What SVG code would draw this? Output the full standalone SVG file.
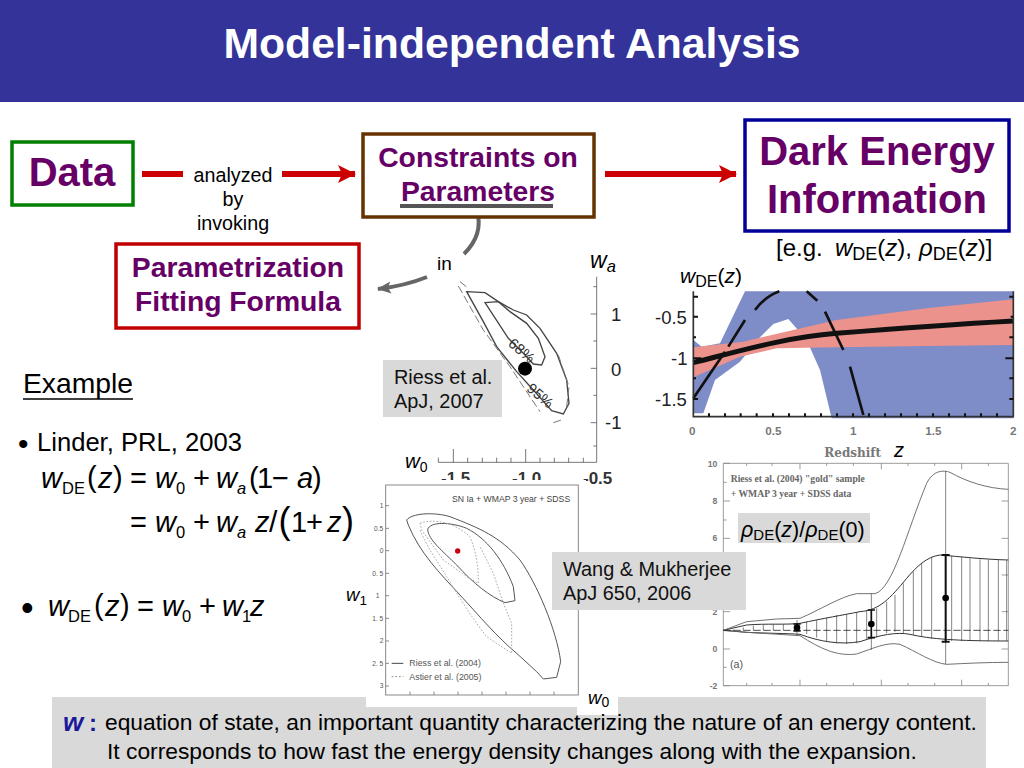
<svg xmlns="http://www.w3.org/2000/svg" width="1024" height="768" viewBox="0 0 1024 768">
<style>
text{font-family:"Liberation Sans",Arial,sans-serif;fill:#000}
.head{font-weight:bold;fill:#660066;text-anchor:middle}
.lab{fill:#111;font-size:19.900px}
.i{font-style:italic}
.eq{font-size:29px}
.s{font-size:16.500px}
.box{fill:#fff;stroke-width:3.500}
.tag{fill:#d9d9d9}
.tick{font-size:18.500px;fill:#222}
.ax{fill:none;stroke:#555;stroke-width:2.4}
.c1{fill:none;stroke:#444;stroke-width:4}
.d1{fill:none;stroke:#777;stroke-width:3;stroke-dasharray:24 10}
.c3{fill:none;stroke:#555;stroke-width:3}
.d3{fill:none;stroke:#aaa;stroke-width:3;stroke-dasharray:5 5}
.t3{font-size:20px;fill:#555}
.c4{fill:none;stroke:#666;stroke-width:2.8}
.c4k{fill:none;stroke:#333;stroke-width:3}
.t4{font-family:"Liberation Serif",serif;fill:#666;font-size:29px;font-weight:bold}
.t2{font-size:27px;fill:#777;font-family:"DejaVu Serif","Liberation Serif",serif}
</style>
<defs>
<marker id="red" markerUnits="userSpaceOnUse" markerWidth="18" markerHeight="20" refX="17" refY="10" orient="auto"><path d="M0 1L18 10L0 19L4 10Z" fill="#cc0000"/></marker>
<marker id="gr" markerUnits="userSpaceOnUse" markerWidth="14" markerHeight="14" refX="13" refY="7" orient="auto"><path d="M0 1L14 7L0 13L3 7Z" fill="#666"/></marker>
</defs>
<rect width="1024" height="768" fill="#fff"/>
<rect id="title-bar" width="1024" height="102" fill="#333399"/>
<text x="512" y="58" text-anchor="middle" font-size="42.700" font-weight="bold" style="fill:#fff">Model-independent Analysis</text>

<g id="plot-riess" transform="translate(370 240) scale(.33333)">
<path class="ax" d="M680 110V667H205M680 140h-10M680 222h-18M680 303h-10M680 385h-18M680 466h-10M680 548h-18M680 618h-10M205 667v-14M250 667v-40M293 667v-14M337 667v-14M380 667v-14M423 667v-14M467 667v-40M510 667v-14M553 667v-14M596 667v-14M640 667v-14"/>
<path class="c1" d="M290 155L345 158L385 185L430 210L470 225L510 265L560 340L590 420L597 490L580 522L545 512L490 450L440 395L380 320L340 245Z"/>
<path class="c1" d="M345 188L385 185L420 215L470 250L505 295L525 350L515 375L490 372L465 345L415 295Z"/>
<path class="d1" d="M270 125L295 145M265 138L340 270L420 380L510 515M550 548L580 538M590 500L597 440L565 345"/>
<circle cx="465" cy="386" r="21" fill="#000"/>
<text transform="translate(412 315) rotate(40)" font-size="44" style="fill:#333">68%</text>
<text transform="translate(467 450) rotate(40)" font-size="44" style="fill:#333">95%</text>
</g>
<text x="590" y="268" class="i" font-size="23">w<tspan class="s" dy="4">a</tspan></text>
<text x="611" y="321" class="tick">1</text><text x="611" y="376" class="tick">0</text><text x="605" y="429" class="tick">-1</text>
<text x="405" y="468" class="i" font-size="20.500">w<tspan font-size="14" dy="4" font-style="normal">0</tspan></text>
<text x="441" y="484" font-size="17" font-weight="bold" style="fill:#333">-1.5</text>
<text x="512" y="484" font-size="17" font-weight="bold" style="fill:#333">-1.0</text>
<text x="583" y="484" font-size="17" font-weight="bold" style="fill:#333">-0.5</text>
<g id="tag-riess"><rect class="tag" x="383" y="360" width="119" height="57"/>
<text class="lab" x="394" y="384">Riess et al.</text><text class="lab" x="394" y="408">ApJ, 2007</text></g>

<g id="plot-wde" transform="translate(660 250) scale(.33333)">
<path d="M100 270L125 290L180 280L255 124H1060V505H515L480 360L440 270L385 207L340 222L300 262L240 335L165 390L130 490H100Z" fill="#7e8cc8"/>
<path d="M100 292L250 275L530 210L800 175L1060 148V285L800 288L530 292L350 295L240 320L100 382Z" fill="#ec928c"/>
<path d="M100 338C250 300 380 262 530 250S900 222 1060 213" fill="none" stroke="#111" stroke-width="15"/>
<g fill="none" stroke="#111" stroke-width="8"><path d="M100 445L195 305M205 290L255 210M285 180Q315 140 358 124M440 124L472 152M495 185L550 300M570 350L610 495"/></g>
<path d="M100 124V500H1060V124" fill="none" stroke="#333" stroke-width="5"/>
<path d="M100 140h14M100 200h14M100 262h8M100 325h24M100 385h8M100 447h14M1060 140h-12M1060 200h-8M1060 262h-12M1036 325h24M1060 385h-12M1060 447h-12M147 500v-10M195 500v-10M242 500v-10M290 500v-10M339 500v-10M387 500v-10M435 500v-10M483 500v-10M531 500v-10M579 500v-10M627 500v-10M675 500v-10M723 500v-10M771 500v-10M819 500v-10M867 500v-10M915 500v-10M963 500v-10M1011 500v-10" stroke="#111" stroke-width="6"/>
<g font-weight="bold"><text x="97" y="556" text-anchor="middle" style="font-size:35px;fill:#777">0</text>
<text x="340" y="556" text-anchor="middle" style="font-size:35px;fill:#777">0.5</text>
<text x="580" y="556" text-anchor="middle" style="font-size:35px;fill:#777">1</text>
<text x="820" y="556" text-anchor="middle" style="font-size:35px;fill:#777">1.5</text>
<text x="1060" y="556" text-anchor="middle" style="font-size:35px;fill:#777">2</text></g>
<text class="t2" x="578" y="620" text-anchor="middle" style="font-size:36px;font-weight:bold">Redshift</text>
</g>
<text x="680" y="283" font-size="21" class="i">w<tspan font-size="16" dy="4" font-style="normal">DE</tspan><tspan dy="-4" font-style="normal">(</tspan>z<tspan font-style="normal">)</tspan></text>
<text x="655" y="324" class="tick">-0.5</text><text x="671" y="365" class="tick">-1</text><text x="655" y="406" class="tick">-1.5</text>
<text x="894" y="457" class="i" font-size="20">z</text>

<g id="plot-wang" transform="translate(340 480) scale(.33333)">
<rect x="78" y="0" width="660" height="700" fill="#fff"/>
<rect x="137" y="15" width="578" height="630" fill="none" stroke="#888" stroke-width="3"/>
<path d="M137 77h10M137 145h10M137 212h10M137 280h10M137 347h10M137 415h10M137 483h10M137 550h10M137 618h10M210 645v-10M282 645v-10M354 645v-10M426 645v-10M498 645v-10M570 645v-10M642 645v-10" stroke="#888" stroke-width="3"/>
<path class="c3" d="M200 120C215 100 280 95 330 110C420 145 480 170 540 240C590 310 650 450 662 545L650 592L610 597L590 575L530 520C470 470 420 410 360 345C300 280 240 220 205 135Z"/>
<path class="c3" d="M263 148C270 125 330 125 380 145C440 175 490 240 520 320L525 362L495 368C450 350 400 310 350 255C310 215 265 180 263 148Z"/>
<path class="d3" d="M240 130C280 115 340 125 390 170C410 220 415 260 415 310L380 290L310 240L245 150ZM240 150C260 200 290 240 320 290C350 340 400 420 440 470L515 520L515 430L490 370L460 280L420 200"/>
<circle cx="353" cy="213" r="8" fill="#cc0011"/>
<text x="336" y="66" style="font-size:26px;fill:#444">SN Ia + WMAP 3 year + SDSS</text>
<path d="M155 550H190" stroke="#444" stroke-width="3"/><path d="M155 590H190" stroke="#888" stroke-width="3" stroke-dasharray="5 6"/>
<text x="208" y="558" style="font-size:26.500px;fill:#555">Riess et al. (2004)</text>
<text x="208" y="600" style="font-size:26.500px;fill:#555">Astier et al. (2005)</text>
<g text-anchor="end"><text class="t3" x="130" y="84">1</text><text class="t3" x="130" y="152">0.5</text><text class="t3" x="130" y="219">0</text><text class="t3" x="130" y="287">0. 5</text><text class="t3" x="118" y="354">1</text><text class="t3" x="130" y="422">1. 5</text><text class="t3" x="130" y="490">2</text><text class="t3" x="130" y="557">2. 5</text><text class="t3" x="130" y="625">3</text></g>
<g text-anchor="middle"><text class="t3" x="130" y="674">1. 6</text><text class="t3" x="203" y="674">1. 4</text><text class="t3" x="275" y="674">1. 2</text><text class="t3" x="342" y="674">1</text><text class="t3" x="420" y="674">0. 8</text><text class="t3" x="492" y="674">0. 6</text><text class="t3" x="565" y="674">0. 4</text><text class="t3" x="637" y="674">0. 2</text><text class="t3" x="715" y="674">0</text></g>
</g>
<text x="346" y="601" class="i" font-size="18.500">w<tspan font-size="13.500" dy="4" font-style="normal">1</tspan></text>

<g id="plot-rho" transform="translate(700 455) scale(.33333)">
<path d="M70 25V692H925V25Z" fill="none" stroke="#888" stroke-width="2.5"/>
<path d="M70 25h20M70 138h20M70 250h20M70 360h20M70 470h20M70 582h20M70 692h20M70 82h10M70 195h10M70 305h10M70 415h10M70 527h10M70 637h10M140 25v8M216 25v8M300 25v18M380 25v8M460 25v8M544 25v18M624 25v8M704 25v8M785 25v18M865 25v8M140 692v-8M216 692v-8M300 692v-18M380 692v-8M460 692v-8M544 692v-18M624 692v-8M704 692v-8M785 692v-18M865 692v-8M925 138h-20M925 250h-20M925 360h-20M925 470h-20M925 582h-20" stroke="#888" stroke-width="2.5" fill="none"/>
<path d="M100 526V524M130 526V517M160 526V512M190 526V510M220 526V508M250 526V507M320 537V500M350 548V495M380 558V488M410 565V480M440 567V478M470 565V472M500 555V465M530 548V460M560 535V440M585 530V420M610 535V385M640 540V350M665 545V325M695 552V305M755 558V303M785 558V305M810 558V310M840 558V313M865 558V314M895 558V315M920 558V316" stroke="#555" stroke-width="2.2"/>
<path class="c4k" d="M70 526L140 510C200 505 260 510 300 505C370 490 430 480 480 470C540 465 570 430 620 370C650 335 680 305 720 300C780 305 850 313 925 315"/>
<path class="c4k" d="M70 526L140 532C200 535 260 535 300 538C360 560 420 570 480 560C540 540 590 530 630 538C690 552 770 558 925 558"/>
<path class="c4" d="M70 526L140 500L230 492L300 490C360 465 420 425 470 416H525C580 400 620 230 680 85C700 45 730 45 750 52C800 80 860 100 925 103"/>
<path class="c4" d="M70 526L140 532L300 542C360 580 410 605 470 597C520 580 560 560 600 568C650 590 700 625 740 628C800 625 860 622 925 622"/>
<path d="M70 526H925" stroke="#222" stroke-width="2.4" stroke-dasharray="22 8"/>
<path d="M291 495V542M514 416V585M737 48V628" stroke="#555" stroke-width="2.2"/>
<path d="M291 507V528M280 507H302M280 528H302M514 465V548M503 465H525M503 548H525" stroke="#111" stroke-width="5" fill="none"/>
<path d="M737 300V560M725 300H749M725 560H749" stroke="#111" stroke-width="6" fill="none"/>
<circle cx="291" cy="518" r="10" fill="#000"/><circle cx="514" cy="507" r="10" fill="#000"/><circle cx="737" cy="429" r="10" fill="#000"/>
<text class="t4" x="92" y="80">Riess et al. (2004) "gold" sample</text>
<text class="t4" x="92" y="125">+ WMAP 3 year + SDSS data</text>
<g font-weight="bold" text-anchor="end"><text x="52" y="35" style="font-size:26px;fill:#777">10</text><text x="52" y="147" style="font-size:26px;fill:#777">8</text><text x="52" y="258" style="font-size:26px;fill:#777">6</text><text x="52" y="480" style="font-size:26px;fill:#777">2</text><text x="52" y="592" style="font-size:26px;fill:#777">0</text><text x="52" y="702" style="font-size:26px;fill:#777">-2</text></g>
<text x="90" y="640" font-size="32" style="fill:#555">(a)</text>
</g>
<g id="tag-rho"><rect class="tag" x="738" y="513" width="132" height="30"/>
<text x="741" y="537" font-size="21.500"><tspan class="i">ρ</tspan><tspan font-size="15" dy="3">DE</tspan><tspan dy="-3">(</tspan><tspan class="i">z</tspan>)/<tspan class="i">ρ</tspan><tspan font-size="15" dy="3">DE</tspan><tspan dy="-3">(0)</tspan></text></g>
<g id="tag-wang"><rect class="tag" x="552" y="552" width="194" height="58"/>
<text class="lab" x="563" y="576">Wang &amp; Mukherjee</text><text class="lab" x="563" y="600">ApJ 650, 2006</text></g>

<g id="connectors" fill="none">
<path d="M142 174H183" stroke="#cc0000" stroke-width="6"/>
<path d="M282 174H355" stroke="#cc0000" stroke-width="6" marker-end="url(#red)"/>
<path d="M605 174H736" stroke="#cc0000" stroke-width="6" marker-end="url(#red)"/>
<path d="M477 211C482 228 476 242 464 254" stroke="#666" stroke-width="4"/>
<path d="M427 277C412 283 395 287 378 289" stroke="#666" stroke-width="4" marker-end="url(#gr)"/>
</g>
<g id="node-data"><rect class="box" x="12" y="142" width="121" height="63" stroke="#008000"/>
<text class="head" x="72" y="186" font-size="40">Data</text></g>
<text x="233" y="182" text-anchor="middle" font-size="19.700">analyzed</text>
<text x="233" y="206" text-anchor="middle" font-size="19.700">by</text>
<text x="233" y="230" text-anchor="middle" font-size="19.700">invoking</text>
<g id="node-constraints"><rect class="box" x="363" y="134" width="231" height="83" stroke="#663300"/>
<text class="head" x="478" y="167" font-size="28.300">Constraints on</text>
<text class="head" x="478" y="201" font-size="28.300">Parameters</text>
<path d="M400 206H553" stroke="#555" stroke-width="4"/></g>
<g id="node-dark"><rect class="box" x="745" y="120" width="264" height="111" stroke="#000099"/>
<text class="head" x="877" y="165" font-size="40">Dark Energy</text>
<text class="head" x="877" y="213" font-size="40">Information</text></g>
<text x="776" y="256" font-size="24">[e.g. <tspan class="i" x="835">w</tspan><tspan font-size="18" dy="4">DE</tspan><tspan dy="-4">(</tspan><tspan class="i">z</tspan>),<tspan class="i" x="919">ρ</tspan><tspan font-size="18" dy="4">DE</tspan><tspan dy="-4">(</tspan><tspan class="i">z</tspan>)]</text>
<g id="node-param"><rect class="box" x="116" y="244" width="243" height="84" stroke="#c00000"/>
<text class="head" x="238" y="277" font-size="28.300">Parametrization</text>
<text class="head" x="238" y="311" font-size="28.300">Fitting Formula</text></g>
<text x="437" y="270" font-size="19">in</text>

<text x="23" y="393" font-size="28.300">Example</text><path d="M23 399H133" stroke="#000" stroke-width="1.500"/>
<text x="18" y="454" font-size="30">•</text><text x="37" y="451" font-size="25.600">Linder, PRL, 2003</text>
<g id="eq1">
<text class="eq i" x="41" y="488">w</text><text class="s" x="62" y="494">DE</text><text class="eq" x="87" y="487">(</text><text class="eq i" x="98" y="488">z</text><text class="eq" x="113" y="487">)</text><text class="eq" x="130" y="488">=</text>
<text class="eq i" x="155" y="488">w</text><text class="s" x="176" y="494">0</text><text class="eq" x="193" y="488">+</text><text class="eq i" x="216" y="488">w</text><text class="s i" x="237" y="494">a</text><text class="eq" x="249" y="488">(</text><text class="eq" x="257" y="488">1</text><text class="eq" x="272" y="488">−</text><text class="eq i" x="297" y="488">a</text><text class="eq" x="312" y="488">)</text>
<text class="eq" x="130" y="532">=</text><text class="eq i" x="155" y="532">w</text><text class="s" x="176" y="538">0</text><text class="eq" x="193" y="532">+</text><text class="eq i" x="216" y="532">w</text><text class="s i" x="237" y="538">a</text><text class="eq i" x="255" y="532">z</text><text x="269" y="532" font-size="30">/</text><text x="278.500" y="533" font-size="36">(</text><text class="eq" x="291" y="532">1</text><text class="eq" x="306" y="532">+</text><text class="eq i" x="327" y="532">z</text><text x="342" y="533" font-size="36">)</text>
</g>
<g id="eq2">
<text x="21" y="620" font-size="36">•</text>
<text class="eq i" x="48" y="616">w</text><text class="s" x="68" y="622">DE</text><text class="eq" x="94" y="615">(</text><text class="eq i" x="105" y="616">z</text><text class="eq" x="120" y="615">)</text><text class="eq" x="137" y="616">=</text><text class="eq i" x="162" y="616">w</text><text class="s" x="182" y="622">0</text><text class="eq" x="199" y="616">+</text><text class="eq i" x="222" y="616">w</text><text class="s" x="242" y="622">1</text><text class="eq i" x="250" y="616">z</text>
</g>

<g id="note"><rect class="tag" x="52" y="697" width="934" height="71"/>
<rect x="366" y="697" width="252" height="10" fill="#fff"/><rect x="577" y="697" width="41" height="18" fill="#fff"/>
<text x="63" y="731" font-size="26" font-weight="bold" font-style="italic" style="fill:#1a1a99">w</text><text x="89" y="731" font-size="24" font-weight="bold" style="fill:#1a1a99">:</text>
<text x="105" y="730" font-size="22.800">equation of state, an important quantity characterizing the nature of an energy content.</text>
<text x="107" y="759" font-size="22.800">It corresponds to how fast the energy density changes along with the expansion.</text></g>
<text x="588" y="704" class="i" font-size="18.500">w<tspan font-size="14" dy="3" font-style="normal">0</tspan></text>
</svg>
